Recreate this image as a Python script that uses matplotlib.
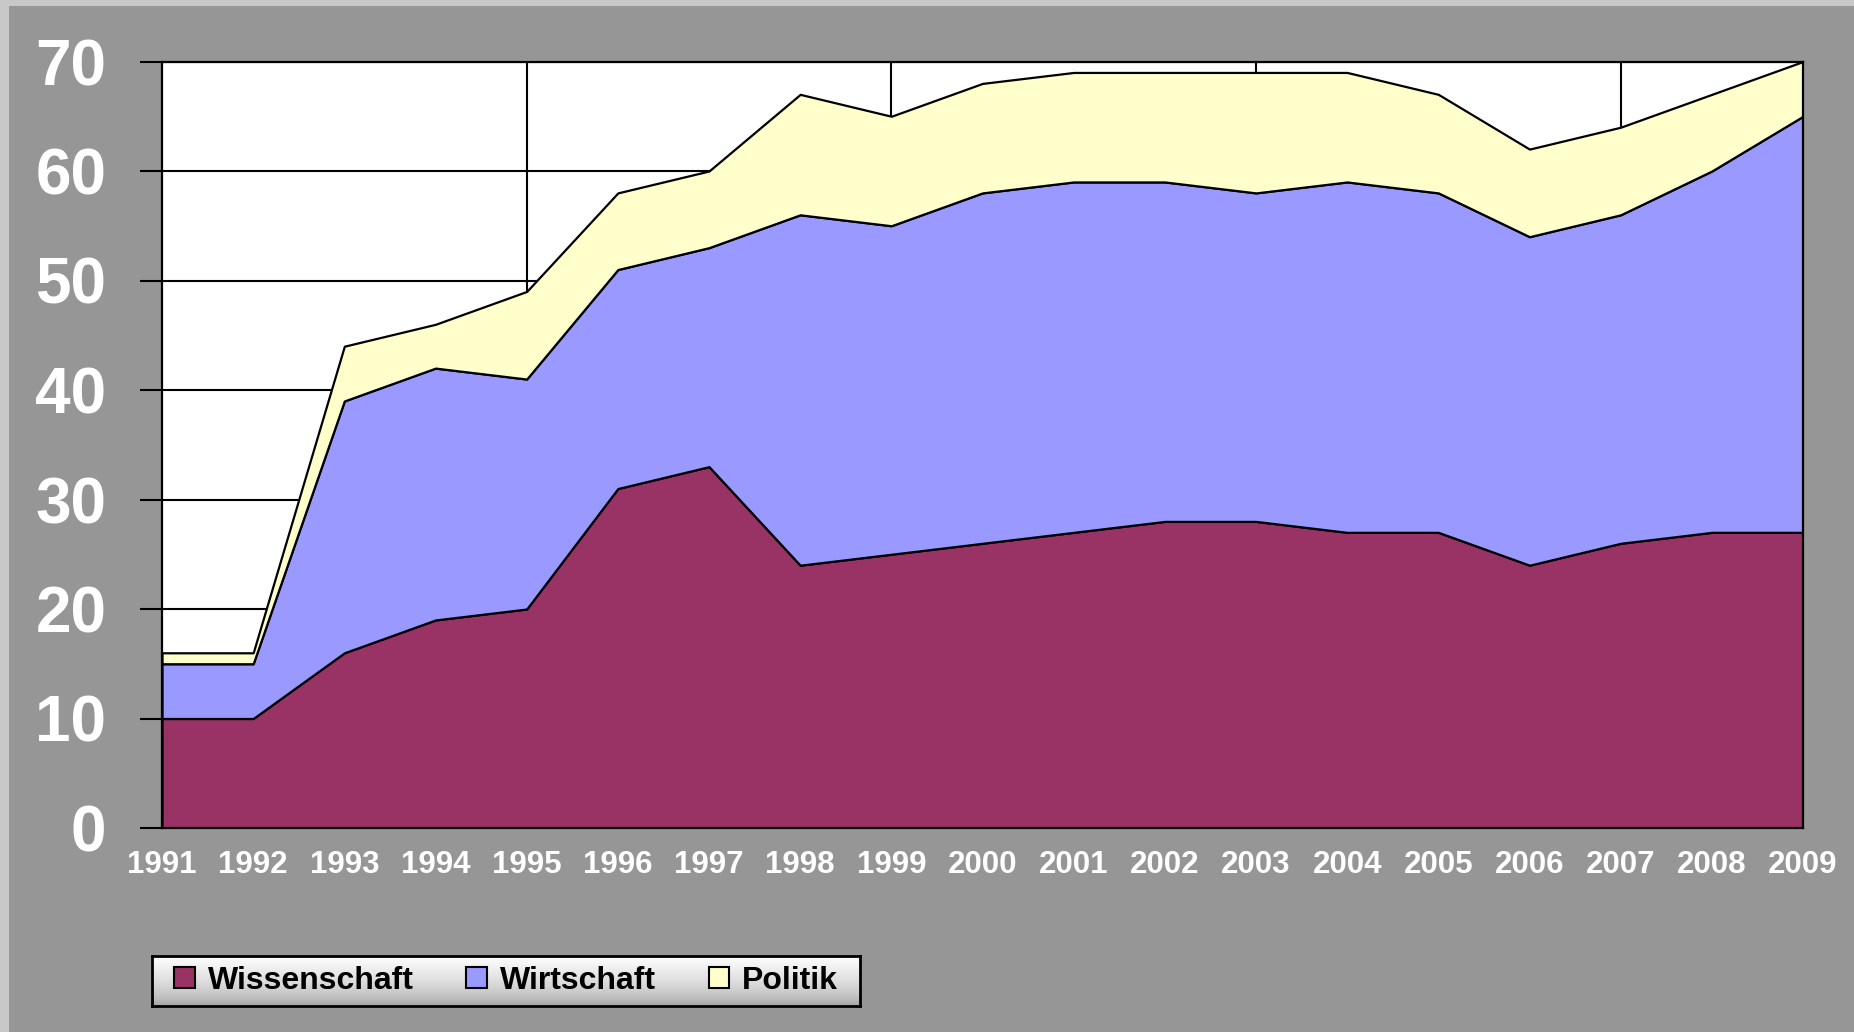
import matplotlib
matplotlib.use("Agg")
import matplotlib.pyplot as plt
import numpy as np
from matplotlib.patches import Rectangle, Patch

years = [1991, 1992, 1993, 1994, 1995, 1996, 1997, 1998, 1999, 2000,
         2001, 2002, 2003, 2004, 2005, 2006, 2007, 2008, 2009]
wissenschaft = [10, 10, 16, 19, 20, 31, 33, 24, 25, 26, 27, 28, 28, 27, 27, 24, 26, 27, 27]
wirtschaft   = [5, 5, 23, 23, 21, 20, 20, 32, 30, 32, 32, 31, 30, 32, 31, 30, 30, 33, 38]
politik      = [1, 1, 5, 4, 8, 7, 7, 11, 10, 10, 10, 10, 11, 10, 9, 8, 8, 7, 5]
series_names = ["Wissenschaft", "Wirtschaft", "Politik"]
colors = ["#993366", "#9999FF", "#FFFFCC"]
y_ticks = [0, 10, 20, 30, 40, 50, 60, 70]
vgrid_years = [1995, 1999, 2003, 2007]
cross_tick_years = [1991, 1995, 1999, 2003, 2007]

FONT = ["Liberation Sans", "DejaVu Sans"]
plt.rcParams["font.family"] = FONT
plt.rcParams["font.weight"] = "bold"

W, H = 1854, 1032
fig = plt.figure(figsize=(W / 100, H / 100), dpi=100, facecolor="#969696")

# light border strips (top and left)
fig.patches.append(Rectangle((0, 0), 9 / W, 1, transform=fig.transFigure,
                             facecolor="#c8c8c8", edgecolor="none", zorder=-1))
fig.patches.append(Rectangle((0, 1 - 6 / H), 1, 6 / H, transform=fig.transFigure,
                             facecolor="#c8c8c8", edgecolor="none", zorder=-1))

left, right, top, bottom = 162, 1803, 61.5, 828
ax = fig.add_axes([left / W, 1 - bottom / H, (right - left) / W, (bottom - top) / H])
ax.set_facecolor("white")

ax.stackplot(years, wissenschaft, wirtschaft, politik, colors=colors,
             edgecolor="black", linewidth=1.6, zorder=1)

ax.set_xlim(years[0], years[-1])
ax.set_ylim(0, 70)
ax.set_axisbelow(True)
ax.yaxis.grid(True, color="black", linewidth=1.5)
for yr in vgrid_years:
    ax.axvline(yr, color="black", linewidth=1.5, zorder=0.5)

for s in ax.spines.values():
    s.set_color("black")
    s.set_linewidth(1.6)
    s.set_zorder(3)

ax.set_yticks(y_ticks)
ax.set_yticklabels([str(v) for v in y_ticks])
ax.tick_params(axis="y", direction="out", length=16, width=1.5, pad=24,
               labelsize=46, colors="black")
for t in ax.get_yticklabels():
    t.set_color("white")
    t.set_fontweight("bold")

ax.set_xticks(years)
ax.set_xticklabels([str(y) for y in years])
ax.tick_params(axis="x", which="major", length=0, pad=16, labelsize=22.5)
for t in ax.get_xticklabels():
    t.set_color("white")
    t.set_fontweight("bold")
ax.set_xticks(years[::2], minor=True)
ax.tick_params(axis="x", which="minor", direction="out", length=7, width=1.5, color="black")

sec = ax.secondary_xaxis("bottom")
sec.set_xticks(cross_tick_years)
sec.set_xticklabels([""] * len(cross_tick_years))
sec.tick_params(axis="x", direction="in", length=7, width=1.5, color="black")
sec.spines["bottom"].set_visible(False)

# legend (frame drawn separately with gradient fill)
xpad = 12
handles = [Patch(facecolor=c, edgecolor="black", linewidth=1.5) for c in colors]
leg = fig.legend(handles, series_names, loc="lower left",
                 bbox_to_anchor=((152 + xpad) / W, 26 / H), bbox_transform=fig.transFigure,
                 ncol=3, frameon=False, borderaxespad=0,
                 prop={"family": FONT, "weight": "bold", "size": 23},
                 handlelength=0.65, handleheight=0.65, handletextpad=0.4,
                 columnspacing=1.65, borderpad=0.32)
leg.set_zorder(5)

fig.canvas.draw()
bb = leg.get_window_extent()
x0 = (bb.x0 - xpad) / W
x1 = (bb.x1 + xpad) / W
y0 = bb.y0 / H
y1 = bb.y1 / H
gax = fig.add_axes([x0, y0, x1 - x0, y1 - y0], zorder=1)
grad = np.linspace(1.0, 0.0, 64).reshape(-1, 1)
c_top = np.array([1.0, 1.0, 1.0])
c_bot = np.array([0.62, 0.62, 0.62])
img = (c_bot[None, None, :] + (c_top - c_bot)[None, None, :] * grad[:, :, None] ** 0.6)
gax.imshow(img, aspect="auto", extent=[0, 1, 0, 1], interpolation="bilinear")
gax.set_xticks([])
gax.set_yticks([])
for s in gax.spines.values():
    s.set_color("black")
    s.set_linewidth(2)

fig.savefig("out.png", dpi=100, facecolor=fig.get_facecolor())
